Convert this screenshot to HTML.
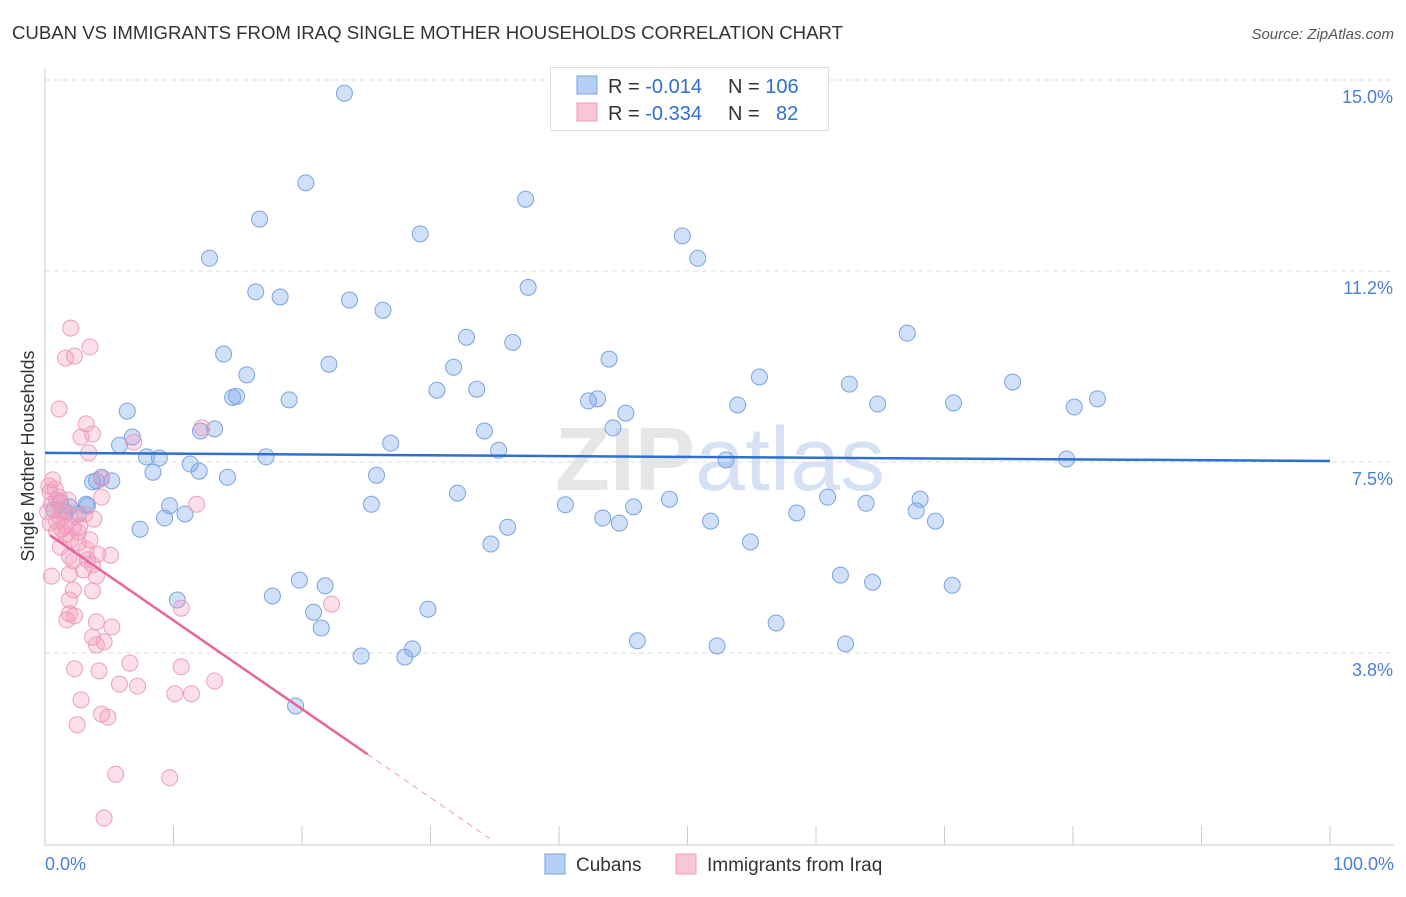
<!DOCTYPE html>
<html><head><meta charset="utf-8"><style>
body{margin:0;background:#fff;font-family:"Liberation Sans",sans-serif;}
svg text{font-family:"Liberation Sans",sans-serif;}
</style></head><body>
<svg id="chart" width="1406" height="892" viewBox="0 0 1406 892">
<text x="12" y="39" font-size="18.6" fill="#333">CUBAN VS IMMIGRANTS FROM IRAQ SINGLE MOTHER HOUSEHOLDS CORRELATION CHART</text>
<text x="1394" y="39" font-size="15" fill="#555" font-style="italic" text-anchor="end">Source: ZipAtlas.com</text>
<text x="720" y="490" font-size="90" fill="#e6e6e6" text-anchor="middle" font-weight="bold">ZIP<tspan fill="#d6e2f4" font-weight="normal">atlas</tspan></text>
<g id="grid"></g>
<g id="axes"></g>
<g id="pts"></g>
<g id="trends"></g>
<text transform="translate(34,456) rotate(-90)" font-size="18" fill="#333" text-anchor="middle">Single Mother Households</text>
<text x="45" y="870" font-size="18" fill="#4a7fd4">0.0%</text>
<text x="1394" y="870" font-size="18" fill="#4a7fd4" text-anchor="end">100.0%</text>
<g>
<rect x="550.5" y="67.5" width="278" height="63" fill="#fff" stroke="#ddd"/>
<rect x="577" y="76" width="20" height="18" fill="#b6d0f5" stroke="#7ba3e0"/>
<rect x="577" y="103" width="20" height="18" fill="#f9c6d6" stroke="#eba0ba"/>
<text x="608" y="93" font-size="20" fill="#333">R = <tspan fill="#2e6fd0">-0.014</tspan><tspan x="728">N = </tspan><tspan fill="#2e6fd0">106</tspan></text>
<text x="608" y="120" font-size="20" fill="#333">R = <tspan fill="#2e6fd0">-0.334</tspan><tspan x="728">N = </tspan><tspan fill="#2e6fd0" x="776">82</tspan></text>
</g>
<g>
<rect x="545" y="854" width="20" height="20" fill="#b6d0f5" stroke="#7ba3e0"/>
<text x="576" y="871" font-size="19" fill="#333">Cubans</text>
<rect x="676" y="854" width="20" height="20" fill="#f9c6d6" stroke="#eba0ba"/>
<text x="707" y="871" font-size="19" fill="#333">Immigrants from Iraq</text>
</g>
</svg>
<script>
const yTicks=[15.0,11.25,7.5,3.75];
const yTickLabels=["15.0%","11.2%","7.5%","3.8%"];
const xTicks=[0,10,20,30,40,50,60,70,80,90,100];
const cubanX=[23.3,20.3,16.7,37.4,29.2,49.6,12.8,50.8,16.4,18.3,23.7,37.6,26.3,67.1,32.8,36.4,13.9,43.9,22.1,31.8,15.7,55.6,75.3,62.6,30.5,33.6,14.9,14.6,19.0,42.3,43.0,81.9,53.9,64.8,70.7,80.1,45.2,6.4,44.2,13.2,12.1,34.2,6.8,26.9,5.8,35.3,7.9,8.9,17.2,79.5,53.0,11.3,8.4,12.0,25.8,14.2,4.0,5.2,4.4,3.7,32.1,25.4,48.6,40.5,45.8,60.9,63.9,68.1,1.2,3.2,9.7,0.7,67.8,43.4,44.7,51.8,58.5,69.3,9.3,10.9,2.6,36.0,7.4,34.7,54.9,61.9,64.4,70.6,19.8,21.8,17.7,29.8,20.9,21.5,10.3,46.1,52.3,56.9,62.3,24.6,28.0,28.6,19.5,1.9,1.6,3.3];
const cubanY=[14.74,12.98,12.27,12.66,11.98,11.94,11.50,11.50,10.84,10.74,10.68,10.93,10.48,10.03,9.95,9.85,9.62,9.52,9.42,9.36,9.21,9.17,9.07,9.03,8.91,8.93,8.79,8.77,8.72,8.70,8.74,8.74,8.62,8.64,8.66,8.58,8.46,8.50,8.17,8.15,8.11,8.11,7.99,7.87,7.83,7.73,7.60,7.58,7.60,7.56,7.54,7.46,7.30,7.32,7.24,7.20,7.13,7.13,7.20,7.11,6.89,6.67,6.77,6.66,6.62,6.81,6.69,6.77,6.71,6.67,6.64,6.56,6.54,6.40,6.30,6.34,6.50,6.34,6.40,6.48,6.48,6.22,6.18,5.89,5.93,5.28,5.14,5.08,5.18,5.07,4.87,4.61,4.55,4.24,4.79,3.99,3.89,4.34,3.93,3.69,3.67,3.83,2.71,6.62,6.52,6.64];
const iraqX=[2.0,3.5,2.3,1.6,1.1,3.2,2.8,3.7,6.9,12.2,3.4,4.4,4.4,11.8,0.8,0.4,0.9,1.3,1.6,2.3,0.4,0.9,2.7,3.8,1.2,1.9,2.6,2.2,4.1,5.1,3.2,3.0,3.7,4.0,1.9,0.5,3.7,2.2,1.9,1.9,2.3,1.7,4.0,5.2,3.7,4.0,4.6,10.6,22.3,6.6,2.3,4.2,10.6,5.8,7.2,13.2,2.8,10.1,11.4,2.5,4.4,4.9,5.5,9.7,4.6,0.9,1.3,0.2,0.5,3.1,2.0,3.5,2.6,1.6,0.6,0.3,1.1,1.8,1.2,2.2,1.6,3.3];
const iraqY=[10.13,9.76,9.58,9.54,8.54,8.25,7.99,8.05,7.89,8.17,7.68,7.17,6.81,6.67,6.97,6.91,6.75,6.56,6.48,6.44,6.30,6.14,6.24,6.38,5.83,5.65,5.91,5.56,5.69,5.67,5.79,5.38,5.48,5.26,5.30,5.26,4.97,4.99,4.79,4.52,4.48,4.40,4.36,4.26,4.06,3.91,3.97,4.63,4.71,3.55,3.44,3.40,3.48,3.14,3.10,3.20,2.83,2.95,2.95,2.34,2.55,2.49,1.37,1.30,0.51,6.34,6.18,6.52,6.67,6.48,5.97,5.97,6.12,6.24,7.15,7.03,6.81,6.75,6.40,6.22,6.07,5.58];
const cubanTrend=[7.68,7.52];
const iraqTrend=[6.13,-0.174];
const iraqSolidEnd=25.1, iraqDashEnd=34.6;

const NS="http://www.w3.org/2000/svg";
const X0=45,X1=1330,YB=845;
const xs=v=>X0+(X1-X0)*v/100;
const ys=v=>653-(v-3.75)*50.93;
function mk(tag,attrs,parent){const e=document.createElementNS(NS,tag);for(const k in attrs)e.setAttribute(k,attrs[k]);parent.appendChild(e);return e;}
const grid=document.getElementById('grid'),axes=document.getElementById('axes'),pts=document.getElementById('pts'),tr=document.getElementById('trends');
yTicks.forEach((t,i)=>{
 const l=mk('line',{x1:X0,x2:1394,y1:ys(t),y2:ys(t),stroke:'#dcdcdc','stroke-dasharray':'5,4'},grid);
 
 
 const tx=mk('text',{x:1393,y:ys(t)+23,'font-size':18,fill:'#4a7fd4','text-anchor':'end'},grid);
 tx.textContent=yTickLabels[i];
 
 
});
const ya=mk('line',{x1:X0,x2:X0,y1:68,y2:YB,stroke:'#ccc'},axes);


const xa=mk('line',{x1:X0,x2:1394,y1:YB,y2:YB,stroke:'#ccc'},axes);


xTicks.forEach(t=>{
 const l=mk('line',{x1:xs(t),x2:xs(t),y1:826,y2:YB,stroke:'#ccc'},axes);
 
 
});
cubanX.forEach((v,i)=>{
 const c=mk('circle',{cx:xs(v),cy:ys(cubanY[i]),r:8,fill:'rgba(120,165,235,0.35)',stroke:'#7ba3e0','stroke-width':1},pts);
 
 
});
iraqX.forEach((v,i)=>{
 const c=mk('circle',{cx:xs(v),cy:ys(iraqY[i]),r:8,fill:'rgba(245,150,185,0.3)',stroke:'#eba0ba','stroke-width':1},pts);
 
 
});
const bt=mk('line',{x1:xs(0),y1:ys(cubanTrend[0]),x2:xs(100),y2:ys(cubanTrend[1]),stroke:'#2e6fd0','stroke-width':2.5},tr);


const f=x=>iraqTrend[0]+iraqTrend[1]*x;
const pt=mk('line',{x1:xs(0.4),y1:ys(f(0.4)),x2:xs(iraqSolidEnd),y2:ys(f(iraqSolidEnd)),stroke:'#e8649a','stroke-width':2.5},tr);


const pd=mk('line',{x1:xs(iraqSolidEnd),y1:ys(f(iraqSolidEnd)),x2:xs(iraqDashEnd),y2:ys(f(iraqDashEnd)),stroke:'#e8a0bc','stroke-width':1,'stroke-dasharray':'6,5'},tr);


</script>
</body></html>
